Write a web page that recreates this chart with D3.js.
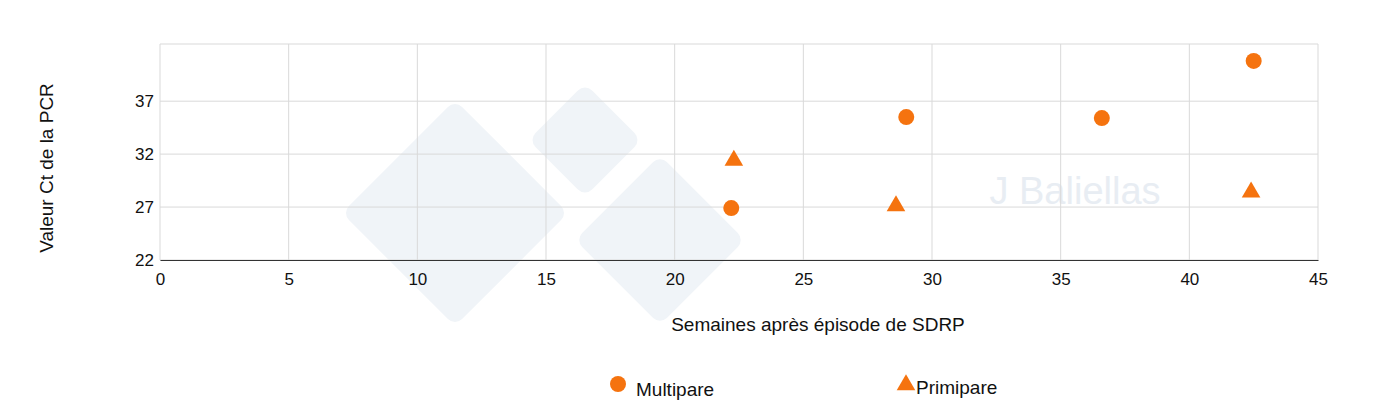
<!DOCTYPE html>
<html><head><meta charset="utf-8">
<script src="https://cdn.jsdelivr.net/npm/d3@7"></script>
<style>body{margin:0;background:#fff;font-family:"Liberation Sans",Arial,sans-serif;}</style>
</head><body><div id="chart"></div>
<script>
const multiX = [22.2, 29.0, 36.6, 42.5];
const multiY = [26.9, 35.5, 35.4, 40.8];
const primiX = [22.3, 28.6, 42.4];
const primiY = [31.4, 27.1, 28.4];
const xTicks = [0, 5, 10, 15, 20, 25, 30, 35, 40, 45];
const yTicks = [22, 27, 32, 37];
const color = "#f5730f";

const svg = d3.select("#chart").append("svg").attr("width", 1400).attr("height", 416);
const x = d3.scaleLinear().domain([0, 45]).range([160, 1318]);
const y = d3.scaleLinear().domain([22, 42.4]).range([260, 44]);

// watermark
const wm = svg.append("g").attr("fill", "#f0f4f8");
[[455, 213, 80], [585, 140, 40], [660, 240, 60]].forEach(([cx, cy, r]) => {
    wm.append("rect").attr("x", cx - r).attr("y", cy - r).attr("width", 2 * r).attr("height", 2 * r)
        .attr("rx", 10).attr("transform", `rotate(45,${cx},${cy})`);
});
svg.append("text").attr("x", 1075).attr("y", 204).attr("text-anchor", "middle")
    .attr("font-size", 38).attr("fill", "#e8edf3").text("J Baliellas");

// grid
svg.append("g").selectAll("line").data(xTicks).join("line")
    .attr("x1", d => x(d)).attr("x2", d => x(d)).attr("y1", 44).attr("y2", 260)
    .attr("stroke", "#d9d9d9");
svg.append("g").selectAll("line").data(yTicks.concat([42.4])).join("line")
    .attr("x1", 160).attr("x2", 1318).attr("y1", d => y(d)).attr("y2", d => y(d))
    .attr("stroke", "#d9d9d9");

const xa = svg.append("g").attr("transform", "translate(0,260)")
    .call(d3.axisBottom(x).tickValues(xTicks).tickSize(0).tickPadding(13));
xa.select(".domain").attr("stroke", "#333");
xa.selectAll("text").attr("font-size", 17).attr("fill", "#111").attr("font-family", "Liberation Sans, Arial");
const ya = svg.append("g").attr("transform", "translate(160,0)")
    .call(d3.axisLeft(y).tickValues(yTicks).tickSize(0).tickPadding(6));
ya.select(".domain").remove();
ya.selectAll("text").attr("font-size", 17).attr("fill", "#111").attr("font-family", "Liberation Sans, Arial");

svg.append("text").attr("x", 818).attr("y", 331).attr("text-anchor", "middle")
    .attr("font-size", 19).attr("fill", "#111").text("Semaines après épisode de SDRP");
svg.append("text").attr("transform", "translate(53,168) rotate(-90)").attr("text-anchor", "middle")
    .attr("font-size", 19).attr("fill", "#111").text("Valeur Ct de la PCR");

svg.append("g").selectAll("circle").data(multiX).join("circle")
    .attr("cx", d => x(d)).attr("cy", (d, i) => y(multiY[i])).attr("r", 8).attr("fill", color);
const tri = d3.symbol().type(d3.symbolTriangle).size(150);
svg.append("g").selectAll("path").data(primiX).join("path")
    .attr("d", tri).attr("transform", (d, i) => `translate(${x(d)},${y(primiY[i])})`).attr("fill", color);

// legend
svg.append("circle").attr("cx", 618).attr("cy", 384).attr("r", 8).attr("fill", color);
svg.append("text").attr("x", 636).attr("y", 396).attr("font-size", 19).attr("fill", "#111").text("Multipare");
svg.append("path").attr("d", tri).attr("transform", "translate(906,385)").attr("fill", color);
svg.append("text").attr("x", 916).attr("y", 394).attr("font-size", 19).attr("fill", "#111").text("Primipare");
</script></body></html>
